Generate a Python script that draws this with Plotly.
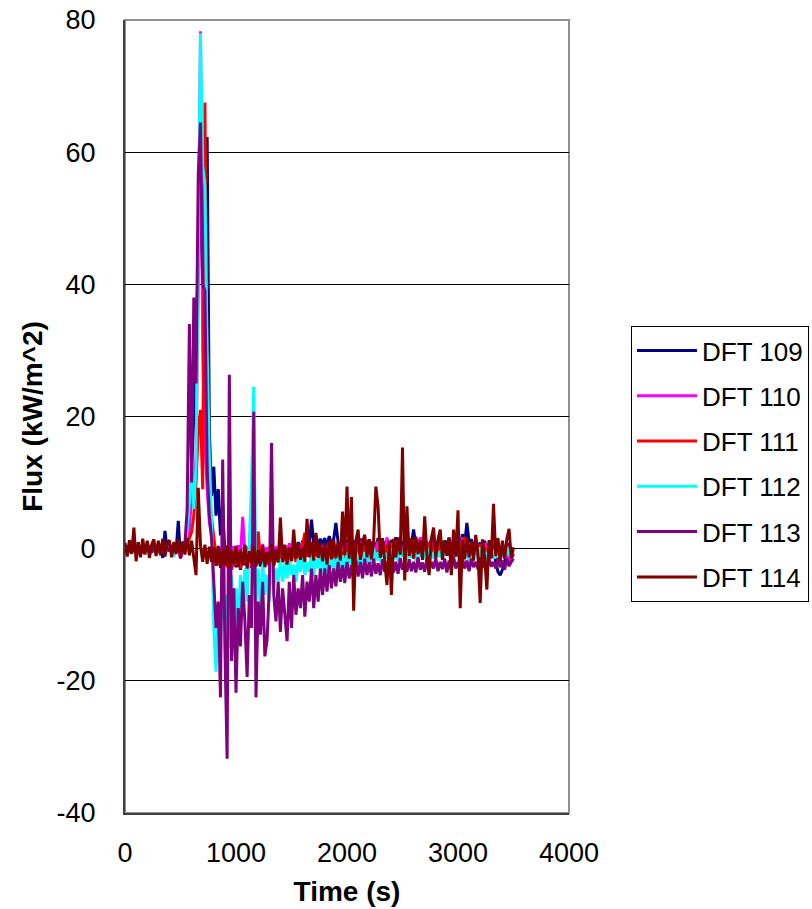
import plotly.graph_objects as go

# Time stamps (s), 20-s sampling
time_s = list(range(0, 3501, 20))

series_names = ["DFT 109", "DFT 110", "DFT 111", "DFT 112", "DFT 113", "DFT 114"]
series_colors = ["#000080", "#FF00FF", "#FF0000", "#00FFFF", "#800080", "#800000"]

dft109 = [
    0.2, -0.3, 0.5, -0.1, 0.3, -0.4, 0.6, -0.2, 0.4, -0.3,
    0.3, -0.2, 0.5, -0.4, 0.2, -0.3, 0.4, -1.4, 2.7, -0.2,
    0.4, -0.3, 0.2, -0.5, 4.2, -1.5, 0.3, -0.2, 2.0, 5.0,
    12.0, 20.0, 32.0, 45.0, 55.0, 40.0, 48.0, 62.3, 18.0, 8.0,
    12.4, 5.0, 9.0, 2.0, 7.0, -1.0, -2.5, 0.5, -3.0, -1.0,
    -2.8, -0.5, -3.2, -1.0, -2.5, 0.3, -2.9, -0.8, 0.5, -2.2,
    -1.0, -2.7, -0.3, -2.2, -1.2, -2.6, -0.5, -2.0, -0.9, -1.8,
    -0.4, -1.6, 0.2, -1.2, 0.5, -0.9, 0.8, -0.6, 1.0, -0.3,
    1.2, 0.2, 1.8, 0.5, 4.4, 0.8, 2.0, 0.3, 1.5, 0.6,
    1.6, 0.4, 1.9, 0.7, 1.4, 3.9, 1.0, 0.3, 1.7, 0.5,
    1.3, 0.2, 1.6, 0.6, 1.2, 0.1, 1.5, 0.4, 1.1, 0.2,
    1.4, 0.5, 1.0, 0.1, 1.6, 0.3, 1.2, 0.6, 0.9, 0.2,
    1.3, 0.4, 1.7, 0.2, 1.1, 0.5, 1.5, 0.3, 1.2, 0.6,
    2.9, 0.4, 1.3, 0.1, 1.6, 0.5, 1.0, 0.2, 1.4, 0.3,
    1.1, 0.4, 1.5, 0.2, 1.2, 0.6, 1.6, 0.3, 1.0, 0.5,
    1.3, 0.2, 2.2, 0.6, 3.9, 1.0, 1.4, 0.3, 1.1, 0.4,
    0.9, 0.1, 1.2, -0.5, 0.6, -1.2, 0.2, -2.0, -3.5, -4.0,
    -3.2, -2.0, -0.5, 0.8, -1.5, -0.8,
]

dft110 = [
    0.4, -0.3, 0.2, -0.5, 0.3, -0.2, 0.5, -0.4, 0.1, -0.3,
    0.2, -0.5, 0.4, -0.2, 0.3, -0.4, 0.1, -0.3, 0.5, -0.2,
    0.3, -0.4, 0.2, -0.3, 0.4, -1.5, -0.2, 0.3, 1.0, 3.0,
    8.0, 10.0, 14.0, 40.0, 78.3, 30.0, 16.0, 9.0, 4.0, 2.0,
    0.5, -1.0, 0.3, -1.4, 0.6, -0.8, -1.6, 0.2, -1.1, 0.4,
    -0.9, 0.5, -1.3, 4.8, -0.6, 0.3, -1.2, 0.6, -0.7, -1.4,
    0.4, -0.8, 0.7, -1.1, 0.2, -0.6, 0.8, -1.0, 0.3, -0.5,
    0.6, -0.7, 0.4, -1.0, 0.8, -0.3, 0.5, -0.9, 0.7, -0.4,
    0.9, -0.5, 0.3, -0.8, 1.0, -0.2, 0.6, -0.7, 0.8, -0.4,
    0.5, -0.9, 1.1, -0.3, 0.4, -0.6, 0.9, -0.2, 0.7, -0.5,
    1.0, -0.3, 0.6, -0.7, 0.8, -0.1, 1.2, -0.4, 0.5, -0.6,
    0.9, -0.2, 0.7, -0.5, 1.1, -0.3, 0.4, -0.6, 1.7, -0.1,
    0.8, -0.4, 1.2, -0.2, 0.6, -0.5, 1.0, -0.1, 0.7, -0.3,
    1.1, -0.2, 0.8, 1.7, 0.5, -0.4, 0.9, -0.3, 1.2, -0.1,
    0.7, -0.5, 1.0, -0.2, 0.6, -0.4, 1.3, -0.1, 0.8, -0.3,
    1.2, -0.2, 1.7, 0.3, 0.9, -0.4, 0.6, -0.2, 1.0, -0.5,
    0.5, -0.3, 0.8, -0.6, 1.0, -0.4, 0.4, -0.8, 0.2, -1.0,
    -0.6, -1.5, -0.3, -2.7, -1.2, -0.8,
]

dft111 = [
    0.2, -0.4, 0.5, -0.2, 0.3, -0.5, 0.4, -0.3, 0.2, -0.4,
    0.3, -0.2, 0.4, -0.5, 0.1, -0.3, 0.5, -0.2, 0.3, -0.4,
    0.2, -0.5, 0.3, -0.2, 0.4, -0.3, 0.2, -0.4, 0.6, 1.5,
    2.5, 5.0, 10.0, 18.0, 21.0, 9.0, 67.5, 22.0, 8.0, 4.5,
    1.5, -1.0, -2.5, -0.5, -3.0, -1.0, -2.8, -0.8, -3.2, -1.2,
    -2.5, -0.6, -3.0, -1.4, -2.2, -0.5, -2.8, -1.0, 0.5, -2.4,
    2.6, -2.0, -0.8, -2.6, -1.1, -2.2, -0.4, -2.5, -1.0, -2.0,
    -0.5, -2.1, -0.9, -1.8, 0.2, -1.5, -0.6, -2.0, -0.3, -1.4,
    0.4, 2.4, -1.2, -0.3, -1.7, 0.2, -1.1, -0.5, -1.6, 0.1,
    -0.9, -1.8, 0.3, -1.2, -0.4, -2.7, 0.1, -1.0, -0.6, -1.5,
    0.2, -1.1, -0.5, -1.6, 0.4, -0.8, -0.3, -1.4, 0.3, -0.9,
    -0.2, -1.2, 0.5, -0.7, -0.4, -1.3, 0.2, -0.9, 0.6, -0.6,
    0.3, -0.8, 0.7, -0.5, 0.1, -1.0, 0.6, -0.4, 0.2, -0.9,
    0.5, -0.6, 0.8, -0.3, 0.2, -0.7, 0.9, -0.2, 0.4, -0.8,
    0.6, -0.4, 1.0, -0.2, 0.3, -0.6, 1.1, -0.3, 0.5, -0.5,
    0.8, -0.2, 1.0, 1.7, 0.4, -0.4, 0.9, -0.1, 0.6, -0.3,
    0.7, -0.5, 0.3, -0.8, 0.5, -0.2, 0.8, -0.6, 0.4, -0.9,
    0.2, -0.7, 0.5, -0.4, -0.2, -0.5,
]

dft112 = [
    0.3, -0.5, 0.6, -0.3, 0.4, -0.6, 0.5, -0.2, 0.3, -0.5,
    0.4, -0.3, 0.5, -0.6, 0.2, -0.4, 0.6, -0.3, 0.4, -0.5,
    0.3, -0.6, -1.2, 0.4, -0.3, 0.5, -0.4, 0.5, 3.0, 7.0,
    13.0, 6.0, 12.5, 45.0, 78.0, 58.0, 55.0, 30.0, 14.0, 4.0,
    -12.0, -18.6, -9.0, -14.0, -5.0, -12.0, -7.0, -15.0, -4.0, -10.0,
    -6.0, -12.0, -4.0, -9.0, -3.0, -8.0, 2.0, 10.0, 24.5, -8.0,
    -3.0, -9.0, -2.0, -7.0, -4.0, -8.0, -2.0, -6.0, -3.0, -5.0,
    -1.5, -5.0, -2.0, -4.5, -1.0, -4.0, -2.5, -5.0, -1.5, -3.5,
    -1.0, -4.0, -2.0, -3.5, -0.8, -4.2, -1.5, -3.0, -1.0, -3.8,
    -1.2, -3.5, -0.5, -3.0, -1.5, -3.6, -0.8, -2.8, -1.0, -3.2,
    -0.6, -2.5, -1.0, -3.0, -0.4, -2.2, -1.2, -2.6, -0.5, -2.0,
    -0.8, -2.2, 0.2, -1.8, -0.5, -2.0, 0.3, -1.5, -0.7, -1.8,
    0.1, -1.6, -0.4, -1.9, 0.3, -1.2, -0.6, -1.7, 0.2, -1.4,
    -0.5, -1.8, 0.4, -1.2, -0.3, -1.6, 0.2, -1.1, -0.6, -1.5,
    0.3, -1.3, -0.4, -1.7, 0.5, -1.0, -0.5, -1.6, 0.2, -1.2,
    -0.3, -1.5, 0.4, -1.1, -0.6, -1.8, 0.3, -1.0, -0.4, -1.4,
    0.2, -1.2, -0.5, -1.6, 0.4, -0.9, -0.3, -1.5, 0.1, -1.1,
    -0.4, -1.3, 0.3, -1.0, -0.6, -0.8,
]

dft113 = [
    -0.3, 0.4, -0.6, 0.2, -0.5, 0.5, -0.4, 0.3, -0.7, 0.2,
    -0.4, 0.5, -0.6, 0.3, -0.5, 0.4, -0.3, 0.6, -0.5, 0.2,
    -0.4, 0.5, -0.3, 0.6, -0.5, 0.4, -0.2, 0.8, 6.0, 34.0,
    10.0, 38.0, 25.0, 56.6, 64.5, 40.0, 39.0, 12.0, 5.0, 1.5,
    -5.0, -12.0, -8.0, -22.5, 13.5, -15.0, -31.8, 26.3, -17.0, -6.0,
    -21.8, -9.0, -14.8, -5.0, -11.0, -19.4, -7.0, -12.0, 20.7, -22.5,
    -8.0, -13.0, -5.0, -16.3, -13.8, -6.0, 16.0, -7.0, -11.0, -5.0,
    -12.6, -6.0, -10.0, -14.0, -5.0, -12.0, -4.0, -10.0, -6.0, -9.0,
    -4.0, -10.3, -5.0, -8.0, -3.0, -9.0, -4.0, -8.0, -3.0, -7.0,
    -3.0, -6.5, -2.5, -6.0, -3.0, -5.7, -2.0, -5.0, -2.5, -5.2,
    -2.0, -4.5, -2.5, -4.8, -1.8, -4.2, -2.0, -4.5, -1.5, -4.0,
    -2.0, -4.2, -1.5, -3.8, -2.2, -4.0, -1.6, -3.5, -2.0, -4.0,
    -1.5, -3.6, -2.0, -3.8, -1.4, -3.2, -2.2, -3.5, -1.6, -3.4,
    -2.0, -3.6, -1.3, -3.2, -2.1, -3.5, -1.5, -3.3, -2.0, -3.0,
    -1.4, -3.4, -2.0, -3.1, -1.5, -3.6, -1.8, -3.2, -1.2, -3.0,
    -2.0, -3.3, -1.4, -3.0, -1.8, -3.4, -1.5, -2.8, -2.0, -3.1,
    -1.3, -2.9, -1.8, -3.2, -1.5, -2.7, -2.0, -3.0, -1.4, -2.8,
    -1.8, -3.2, -1.5, -2.6, -2.0, -1.5,
]

dft114 = [
    0.9, -1.2, 1.3, -0.8, 3.2, -1.9, 1.0, -1.3, 1.5, -0.9,
    1.2, -1.4, 0.6, 1.4, -1.1, 1.2, -1.0, 1.5, -1.2, 0.8,
    1.3, -1.3, 1.0, -0.8, 1.5, -1.4, 1.1, -0.9, 1.6, -1.0,
    1.2, -1.5, -4.0, 9.2, 0.5, -2.0, 0.6, -2.3, 0.3, -2.0,
    0.2, -2.6, 0.4, -2.9, -0.2, -2.4, 0.5, -2.8, -0.3, -2.3,
    0.4, -2.8, -0.1, -2.5, 0.6, -3.0, -0.4, -2.2, 0.3, -2.7,
    -0.2, -2.4, 0.5, -2.8, -0.5, -2.0, 0.7, -2.6, -0.1, -2.1,
    4.7, -2.0, 0.6, -2.4, 0.1, -1.9, 2.9, -1.5, 0.8, -1.7,
    0.3, -2.0, 4.5, -1.3, 1.0, -1.8, 2.4, -1.4, 0.9, -1.9,
    0.8, -2.4, 1.2, -1.6, 1.4, -1.4, 1.0, -1.8, 5.6, -1.0,
    9.4, -1.5, 7.8, -9.4, 1.2, 2.9, -1.7, 1.0, 2.1, -1.3,
    1.4, -1.6, 1.1, 9.4, 6.4, -1.4, 1.6, -2.0, -5.5, 1.2,
    -7.0, 1.5, -1.3, 1.7, -0.9, 15.3, -4.8, 6.4, -1.1, 1.6,
    -1.5, 1.8, -0.8, 1.3, -1.7, 4.9, -1.0, -4.0, 1.5, 3.2,
    -1.4, 1.4, 2.9, -1.7, 1.2, -1.1, 1.7, -4.0, 2.9, -1.2,
    5.8, -9.0, 1.3, -1.6, 1.8, -1.3, 1.0, -1.8, 2.1, -1.0,
    -8.2, 1.4, -1.2, -6.2, 1.3, -1.5, 6.8, -1.1, 1.6, -1.9,
    1.2, -1.5, 1.5, 3.0, -1.5, 0.2,
]

series_values = [dft109, dft110, dft111, dft112, dft113, dft114]

x_ticks = [0, 1000, 2000, 3000, 4000]
x_tick_text = ["0", "1000", "2000", "3000", "4000"]
y_ticks = [-40, -20, 0, 20, 40, 60, 80]
y_tick_text = ["-40", "-20", "0", "20", "40", "60", "80"]

FONT = "Liberation Sans, Arial, sans-serif"

fig = go.Figure()
for name, color, vals in zip(series_names, series_colors, series_values):
    fig.add_trace(go.Scatter(
        x=time_s, y=vals, mode="lines", name=name, legendgroup=name,
        line=dict(color=color, width=3),
    ))

fig.update_layout(
    width=812, height=909,
    margin=dict(l=125, r=243, t=20, b=96, autoexpand=False),
    paper_bgcolor="white", plot_bgcolor="white",
    font=dict(family=FONT, color="black"),
    showlegend=True,
    legend=dict(
        x=1.1396, y=0.6141, xanchor="left", yanchor="top",
        bgcolor="white", bordercolor="black", borderwidth=1,
        font=dict(family=FONT, size=26, color="black"),
        tracegroupgap=8.5, itemwidth=60,
    ),
    xaxis=dict(
        range=[0, 4000], tickvals=x_ticks, ticktext=x_tick_text,
        showgrid=False, zeroline=False,
        ticks="outside", ticklen=15, tickcolor="rgba(0,0,0,0)",
        tickfont=dict(family=FONT, size=27, color="black"),
        showline=True, linecolor="#404040", linewidth=2,
        title=dict(text="<b>Time (s)</b>", font=dict(family=FONT, size=28, color="black"), standoff=14),
    ),
    yaxis=dict(
        range=[-40, 80], tickvals=y_ticks, ticktext=y_tick_text,
        showgrid=True, gridcolor="black", gridwidth=1,
        zeroline=False,
        ticks="outside", ticklen=22, tickcolor="rgba(0,0,0,0)",
        tickfont=dict(family=FONT, size=27, color="black"),
        showline=True, linecolor="#404040", linewidth=2,
        title=dict(text="<b>Flux (kW/m^2)</b>", font=dict(family=FONT, size=28, color="black"), standoff=6),
    ),
    shapes=[dict(type="rect", xref="paper", yref="paper", x0=0, y0=0, x1=1, y1=1,
                 line=dict(color="#909090", width=2), layer="below")],
)

fig.write_html("out.html")
